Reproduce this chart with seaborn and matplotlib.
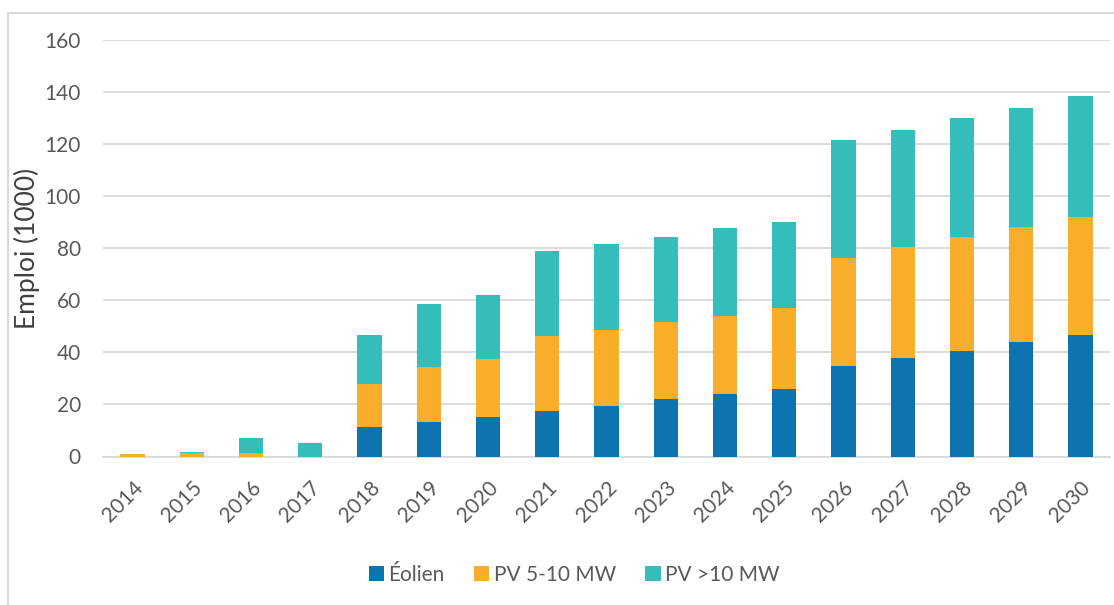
import numpy as np
import pandas as pd
import matplotlib
matplotlib.use("Agg")
import matplotlib.pyplot as plt
from matplotlib.patches import Patch, Rectangle
import seaborn as sns

years = [str(y) for y in range(2014, 2031)]
eolien = [0, 0, 0, 0, 11.2, 13.2, 15.1, 17.5, 19.5, 22.0, 23.9, 26.0, 34.8, 37.8, 40.7, 43.8, 46.6]
pv_5_10 = [0.8, 1.2, 1.3, 0, 16.7, 21.2, 22.3, 28.6, 29.2, 29.6, 30.1, 31.0, 41.4, 42.5, 43.5, 44.3, 45.5]
pv_10 = [0, 0.5, 5.7, 5.1, 18.7, 24.1, 24.6, 32.7, 32.9, 32.9, 33.6, 33.1, 45.4, 45.2, 45.9, 45.8, 46.3]
series_names = ["Éolien", "PV 5-10 MW", "PV >10 MW"]
colors = ["#0E74AF", "#F8AE2A", "#34BDBB"]
yticks = [0, 20, 40, 60, 80, 100, 120, 140, 160]

sns.set_theme(style="white")
plt.rcParams["font.family"] = ["Lato", "DejaVu Sans"]

df = pd.DataFrame({"year": years, "e": eolien, "p1": pv_5_10, "p2": pv_10})
df["c1"] = df["e"]
df["c2"] = df["e"] + df["p1"]
df["c3"] = df["c2"] + df["p2"]

fig = plt.figure(figsize=(11.14, 6.05), dpi=100)
ax = fig.add_axes([103 / 1114, 1 - 456.5 / 605, (1110 - 103) / 1114, (456.5 - 40) / 605])

for col, c in zip(["c3", "c2", "c1"], colors[::-1]):
    sns.barplot(data=df, x="year", y=col, color=c, width=0.41, ax=ax,
                saturation=1, linewidth=0, zorder=3)

ax.set_xlim(-0.5, len(years) - 0.5)
ax.set_ylim(0, 160)
ax.set_yticks(yticks)
ax.set_yticklabels([str(v) for v in yticks])
ax.yaxis.grid(True, color="#d9d9d9", linewidth=1.3, zorder=0)
ax.set_axisbelow(True)
for s in ["top", "right", "left"]:
    ax.spines[s].set_visible(False)
ax.spines["bottom"].set_color("#d9d9d9")
ax.spines["bottom"].set_linewidth(1.3)
ax.tick_params(axis="both", length=0, labelsize=15, colors="#595959")
ax.tick_params(axis="y", pad=16)
ax.tick_params(axis="x", pad=15)
for lbl in ax.get_xticklabels():
    lbl.set_rotation(45)
    lbl.set_ha("right")
    lbl.set_rotation_mode("anchor")
ax.set_xlabel("")
ax.set_ylabel("Emploi (1000)", fontsize=19, color="#404040")
ax.yaxis.set_label_coords(-63 / 1007, 0.5)

handles = [Patch(facecolor=c, edgecolor="none", label=n) for c, n in zip(colors, series_names)]
fig.legend(handles=handles, loc="center", bbox_to_anchor=(574 / 1114, 1 - 575 / 605),
           ncol=3, frameon=False, fontsize=15, handlelength=0.75, handleheight=0.75,
           handletextpad=0.2, columnspacing=1.4, labelcolor="#595959")

fig.patches.append(Rectangle((8 / 1114, -0.01), 1.2, 1 - 13 / 605 + 0.01, transform=fig.transFigure,
                             fill=False, edgecolor="#d9d9d9", linewidth=1.5))

fig.savefig("out.png", dpi=100)
